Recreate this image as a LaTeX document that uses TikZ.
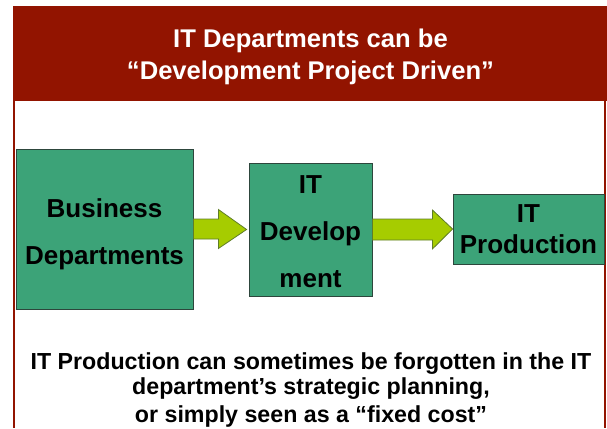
\documentclass[tikz,border=0pt]{standalone}
\usepackage{fontspec}
\setmainfont{Liberation Sans}
\usetikzlibrary{calc}
\definecolor{banner}{RGB}{146,20,0}
\definecolor{boxgreen}{RGB}{60,163,120}
\definecolor{boxline}{RGB}{45,70,60}
\definecolor{arrowfill}{RGB}{166,204,0}
\definecolor{arrowline}{RGB}{95,125,40}
\tikzset{
  gbox/.style={draw=boxline, line width=0.8pt, fill=boxgreen, inner sep=0pt, align=center, font=\bfseries\fontsize{26}{47}\selectfont},
  garrow/.style={draw=arrowline, line width=0.8pt, fill=arrowfill, line join=miter},
  title/.style={text=white, font=\bfseries\fontsize{25.6}{30}\selectfont, inner sep=0pt},
  note/.style={font=\bfseries\fontsize{23.2}{27}\selectfont, inner sep=0pt},
  frame/.style={draw=banner, line width=2pt}
}
\begin{document}
\begin{tikzpicture}[x=1pt,y=-1pt]
\useasboundingbox (0,0) rectangle (607,428);
% frame and banner
\draw[frame] (14,100) -- (14,428);
\draw[frame] (605,100) -- (605,428);
\fill[banner] (13,6) rectangle (607,101);
\node[title] (t1) at (310.5,41) {IT Departments can be};
\node[title] (t2) at (310.5,73) {“Development Project Driven”};
% boxes
\node[gbox, minimum width=177pt, minimum height=160pt] (bd) at (104.5,229) {\rule{0pt}{29pt}Business\\Departments};
\node[gbox, minimum width=123pt, minimum height=133pt] (dev) at (310.5,229.5) {\rule{0pt}{23pt}IT\\Develop\\ment};
\node[gbox, minimum width=151pt, minimum height=70pt, font=\bfseries\fontsize{26}{31}\selectfont] (prod) at (528.5,229) {IT\\Production};
% arrows
\draw[garrow] ($(bd.east)+(0,-10)$) -- ($(bd.east)+(25,-10)$) -- ($(bd.east)+(25,-19.5)$)
  -- ($(dev.west)+(-2,0)$) -- ($(bd.east)+(25,19.5)$) -- ($(bd.east)+(25,10)$) -- ($(bd.east)+(0,10)$) -- cycle;
\draw[garrow] ($(dev.east)+(0,-10.5)$) -- ($(dev.east)+(60,-10.5)$) -- ($(dev.east)+(60,-19.5)$)
  -- (prod.west) -- ($(dev.east)+(60,19.5)$) -- ($(dev.east)+(60,10.5)$) -- ($(dev.east)+(0,10.5)$) -- cycle;
% bottom note
\node[note] (n1) at (311,364) {IT Production can sometimes be forgotten in the IT};
\node[note] (n2) at (311,389) {department’s strategic planning,};
\node[note] (n3) at (311,416) {or simply seen as a “fixed cost”};
\end{tikzpicture}
\end{document}
